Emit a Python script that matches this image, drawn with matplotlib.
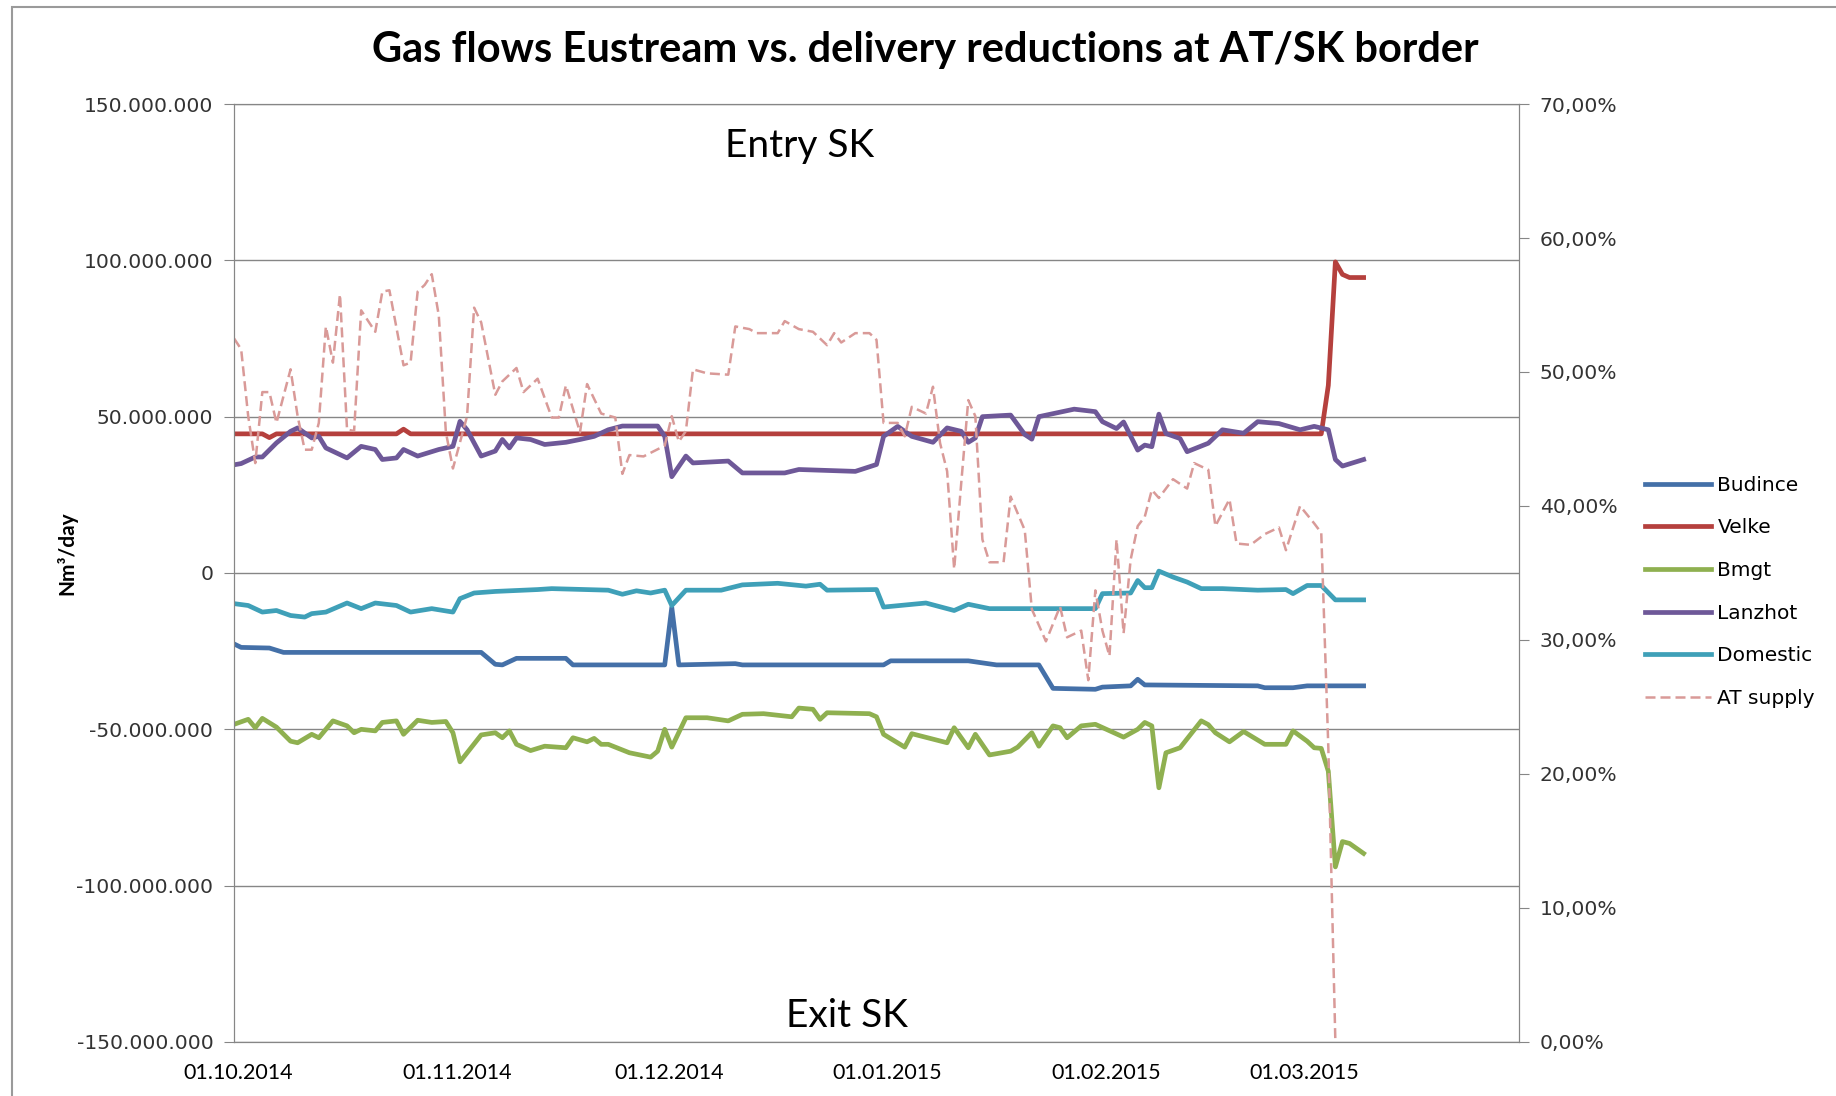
import numpy as np
import matplotlib
matplotlib.use("Agg")
import matplotlib.pyplot as plt
import matplotlib.dates as mdates
from matplotlib.ticker import FuncFormatter, MultipleLocator
from matplotlib.patches import Rectangle
from matplotlib.transforms import ScaledTranslation

start = np.datetime64('2014-10-01')

# day offsets from 01.10.2014 and values (million Nm3/day)
velke_days = [0, 4, 5, 6, 23, 24, 25, 154, 155, 156, 157, 158, 160]
velke_vals = [44.5, 44.5, 43.3, 44.5, 44.5, 46.0, 44.5, 44.5, 60.0, 99.5, 95.5, 94.5, 94.5]

lanzhot_days = [0, 1, 3, 4, 6, 8, 9, 11, 12, 13, 16, 18, 20, 21, 23, 24, 26, 29, 31, 32,
                33, 35, 37, 38, 39, 40, 42, 44, 47, 49, 51, 53, 55, 60, 61, 62, 64, 65, 70,
                72, 78, 80, 88, 91, 92, 94, 96, 99, 101, 103, 104, 105, 106, 110, 112, 113,
                114, 119, 122, 123, 125, 126, 128, 129, 130, 131, 132, 134, 135, 138, 140,
                143, 145, 148, 151, 153, 155, 156, 157, 160]
lanzhot_vals = [34.6, 35.0, 37.1, 37.1, 41.6, 45.3, 46.4, 43.2, 43.7, 40.0, 36.8, 40.5, 39.5,
                36.3, 36.8, 39.5, 37.4, 39.5, 40.5, 48.5, 45.8, 37.4, 39.0, 42.7, 40.0, 43.2,
                42.7, 41.1, 41.8, 42.7, 43.7, 45.8, 47.0, 47.0, 43.7, 30.8, 37.4, 35.2, 35.8,
                32.0, 32.0, 33.1, 32.5, 34.7, 43.7, 46.9, 43.7, 41.8, 46.4, 45.3, 41.8, 43.2,
                50.0, 50.5, 44.3, 42.8, 50.0, 52.4, 51.6, 48.4, 46.2, 48.3, 39.3, 40.9, 40.4,
                50.8, 44.6, 43.0, 38.8, 41.5, 45.8, 44.7, 48.4, 47.8, 45.8, 46.9, 45.8, 36.3,
                34.2, 36.3]

domestic_days = [0, 2, 4, 6, 8, 10, 11, 13, 16, 18, 20, 23, 25, 28, 31, 32, 34, 37, 43, 45,
                 53, 55, 57, 59, 61, 62, 64, 69, 72, 77, 81, 83, 84, 91, 92, 98, 102, 104,
                 107, 122, 123, 127, 128, 129, 130, 131, 133, 135, 137, 140, 145, 149, 150,
                 152, 154, 156, 160]
domestic_vals = [-9.8, -10.4, -12.5, -12.0, -13.6, -14.1, -13.0, -12.5, -9.6, -11.4, -9.6,
                 -10.4, -12.5, -11.4, -12.5, -8.2, -6.4, -5.9, -5.3, -5.0, -5.5, -6.8, -5.7,
                 -6.4, -5.5, -10.4, -5.5, -5.5, -3.8, -3.3, -4.2, -3.6, -5.5, -5.3, -10.9,
                 -9.6, -12.0, -10.0, -11.4, -11.4, -6.6, -6.4, -2.4, -4.7, -4.7, 0.6, -1.3,
                 -2.9, -5.0, -5.0, -5.5, -5.3, -6.6, -4.0, -4.0, -8.6, -8.6]

budince_days = [0, 1, 5, 7, 35, 37, 38, 40, 47, 48, 61, 62, 63, 71, 72, 92, 93, 104, 108,
                114, 116, 122, 123, 127, 128, 129, 145, 146, 150, 152, 160]
budince_vals = [-22.7, -23.8, -24.0, -25.4, -25.4, -29.2, -29.4, -27.3, -27.3, -29.4, -29.4,
                -11.0, -29.4, -29.0, -29.4, -29.4, -28.1, -28.1, -29.4, -29.4, -36.9, -37.2,
                -36.5, -36.1, -34.0, -35.8, -36.1, -36.7, -36.7, -36.1, -36.1]

bmgt_days = [0, 2, 3, 4, 6, 8, 9, 11, 12, 14, 16, 17, 18, 20, 21, 23, 24, 26, 28, 30, 31,
             32, 35, 37, 38, 39, 40, 42, 44, 47, 48, 50, 51, 52, 53, 56, 59, 60, 61, 62, 64,
             67, 70, 72, 75, 79, 80, 82, 83, 84, 90, 91, 92, 95, 96, 101, 102, 104, 105,
             107, 110, 111, 113, 114, 116, 117, 118, 120, 122, 126, 128, 129, 130, 131,
             132, 134, 137, 138, 139, 141, 143, 146, 149, 150, 152, 153, 154, 155, 156,
             157, 158, 160]
bmgt_vals = [-48.4, -46.8, -49.5, -46.5, -49.3, -53.8, -54.3, -51.6, -52.7, -47.3, -48.9,
             -51.1, -50.0, -50.5, -47.8, -47.3, -51.6, -47.1, -47.8, -47.5, -51.1, -60.4,
             -51.8, -51.1, -52.7, -50.5, -54.8, -56.8, -55.4, -55.9, -52.7, -54.0, -52.9,
             -54.8, -54.8, -57.5, -58.9, -57.0, -50.0, -55.7, -46.3, -46.3, -47.3, -45.2,
             -45.0, -46.0, -43.2, -43.6, -46.8, -44.7, -45.0, -46.0, -51.6, -55.7, -51.4,
             -54.3, -49.5, -55.9, -51.6, -58.2, -57.0, -55.7, -51.1, -55.4, -48.9, -49.5,
             -52.7, -48.9, -48.4, -52.5, -50.0, -47.8, -48.9, -68.7, -57.5, -55.9, -47.3,
             -48.5, -51.1, -54.0, -50.7, -54.8, -54.8, -50.5, -53.8, -55.9, -56.1, -63.4,
             -94.0, -85.9, -86.5, -89.7]

# AT supply in percent (right axis)
at_days = [0, 1, 2, 3, 4, 5, 6, 8, 9, 10, 11, 12, 13, 14, 15, 16, 17, 18, 20, 21, 22, 24,
           25, 26, 27, 28, 29, 30, 31, 33, 34, 35, 37, 38, 40, 41, 43, 45, 46, 47, 49, 50,
           52, 54, 55, 56, 58, 61, 62, 63, 64, 65, 67, 70, 71, 73, 74, 77, 78, 80, 82, 84,
           85, 86, 88, 90, 91, 92, 94, 95, 96, 98, 99, 100, 101, 102, 103, 104, 105, 106,
           107, 109, 110, 112, 113, 115, 117, 118, 120, 121, 122, 123, 124, 125, 126, 127,
           128, 129, 130, 131, 133, 135, 136, 138, 139, 141, 142, 144, 146, 148, 149, 151,
           153, 154, 155, 156]
at_vals = [52.5, 51.7, 46.7, 43.2, 48.5, 48.5, 46.2, 50.2, 46.7, 44.2, 44.2, 46.2, 53.4,
           50.7, 55.8, 45.7, 45.6, 54.6, 53.0, 56.0, 56.1, 50.5, 50.7, 56.0, 56.5, 57.3,
           54.2, 45.5, 42.8, 46.7, 54.8, 53.7, 48.3, 49.3, 50.3, 48.5, 49.5, 46.6, 46.6,
           49.0, 45.5, 49.1, 46.9, 46.6, 42.4, 43.8, 43.7, 44.5, 46.7, 44.8, 45.6, 50.2,
           49.9, 49.8, 53.4, 53.2, 52.9, 52.9, 53.8, 53.2, 53.0, 52.0, 52.9, 52.2, 52.9,
           52.9, 52.4, 46.2, 46.2, 45.2, 47.4, 46.9, 48.9, 44.7, 42.6, 35.3, 41.7, 47.9,
           46.7, 37.5, 35.8, 35.8, 40.7, 38.2, 32.3, 29.9, 32.5, 30.2, 30.7, 27.0, 33.7,
           30.7, 28.8, 37.5, 30.5, 36.0, 38.5, 39.2, 41.2, 40.6, 42.0, 41.3, 43.2, 42.7,
           38.5, 40.5, 37.2, 37.1, 37.9, 38.4, 36.7, 40.0, 38.7, 38.0, 22.0, 0.0]


def to_dates(days):
    return start + np.array(days, dtype='timedelta64[D]')


grey = '#868686'
fig = plt.figure(figsize=(18.36, 10.96), dpi=100)
ax = fig.add_axes([0.1275, 0.0493, 0.6998, 0.8558])

ax.plot(to_dates(budince_days), np.array(budince_vals) * 1e6, color='#4470A8', lw=3.4, label='Budince')
ax.plot(to_dates(velke_days), np.array(velke_vals) * 1e6, color='#B5403D', lw=3.4, label='Velke')
ax.plot(to_dates(bmgt_days), np.array(bmgt_vals) * 1e6, color='#8FB050', lw=3.4, label='Bmgt')
ax.plot(to_dates(lanzhot_days), np.array(lanzhot_vals) * 1e6, color='#6E5898', lw=3.4, label='Lanzhot')
ax.plot(to_dates(domestic_days), np.array(domestic_vals) * 1e6, color='#3FA0B8', lw=3.4, label='Domestic')

ax.set_ylim(-150e6, 150e6)
ax.yaxis.set_major_locator(MultipleLocator(50e6))
ax.yaxis.set_major_formatter(FuncFormatter(lambda v, p: f"{int(round(v)):,}".replace(',', '.')))
ax.grid(axis='y', color=grey, lw=1)
ax.set_axisbelow(True)

ax.set_xlim(np.datetime64('2014-10-01'), np.datetime64('2015-04-01'))
ax.xaxis.set_major_locator(mdates.MonthLocator(bymonth=[10, 11, 12, 1, 2, 3]))
ax.xaxis.set_major_formatter(mdates.DateFormatter('%d.%m.%Y'))
ax.tick_params(axis='x', length=0, pad=15, labelsize=15.5)
shift = ScaledTranslation(4 / 100, 0, fig.dpi_scale_trans)
for t in ax.get_xticklabels():
    t.set_family('Lato')
    t.set_transform(t.get_transform() + shift)
ax.tick_params(axis='y', length=7, color=grey, pad=8, labelsize=14.6, labelcolor='#333333')
for s in ax.spines.values():
    s.set_color(grey)

ax2 = ax.twinx()
ax2.plot(to_dates(at_days), at_vals, color='#D99A98', lw=1.8, ls=(0, (4, 2)), label='AT supply')
ax2.set_ylim(0, 70)
ax2.yaxis.set_major_locator(MultipleLocator(10))
ax2.yaxis.set_major_formatter(FuncFormatter(lambda v, p: f"{v:.2f}%".replace('.', ',')))
ax2.tick_params(axis='y', length=7, color=grey, pad=8, labelsize=14.6, labelcolor='#333333')
for s in ax2.spines.values():
    s.set_color(grey)

h1, l1 = ax.get_legend_handles_labels()
h2, l2 = ax2.get_legend_handles_labels()
fig.legend(h1 + h2, l1 + l2, loc='center left', bbox_to_anchor=(0.8915, 0.4600),
           frameon=False, fontsize=14.5, handlelength=3.3, handletextpad=0.3,
           labelspacing=1.17, borderaxespad=0)

fig.text(0.504, 0.954, 'Gas flows Eustream vs. delivery reductions at AT/SK border',
         ha='center', va='center', fontsize=30, fontweight='bold', family='Lato')
fig.text(0.4357, 0.8668, 'Entry SK', ha='center', va='center', fontsize=28, family='Lato')
fig.text(0.4612, 0.073, 'Exit SK', ha='center', va='center', fontsize=28, family='Lato')
fig.text(0.0363, 0.4955, 'Nm³/day', ha='center', va='center', rotation=90,
         fontsize=15, fontweight='bold', family='Lato')

fig.patches.append(Rectangle((12 / 1836, -0.1), 1.2, 1.1 - 7 / 1096, transform=fig.transFigure,
                             fill=False, edgecolor='#9a9a9a', lw=1.5))

fig.savefig('out.png', dpi=100)
